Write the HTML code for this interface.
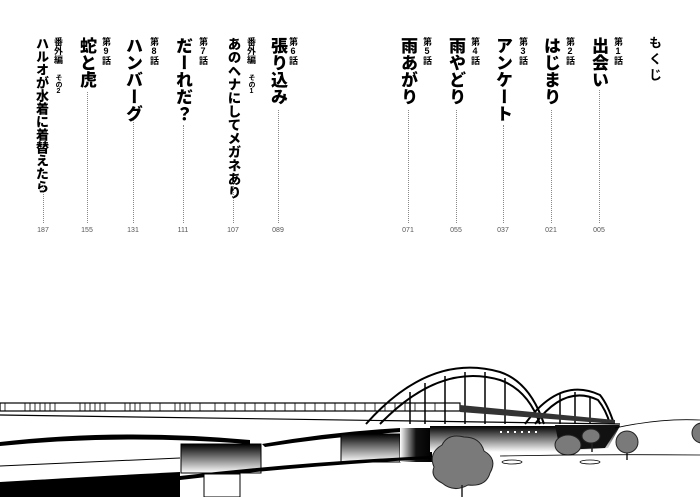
<!DOCTYPE html>
<html><head><meta charset="utf-8"><style>
html,body{margin:0;padding:0;background:#fff;}
body{width:700px;height:497px;position:relative;overflow:hidden;font-family:"Liberation Sans","Noto Sans CJK JP",sans-serif;}
.v{position:absolute;writing-mode:vertical-rl;text-orientation:upright;white-space:nowrap;color:#000;line-height:1;}
.t{font-weight:900;font-size:17px;top:37px;}
.s{font-size:9px;top:37px;font-weight:bold;}
.d{position:absolute;width:0;border-left:1.3px dotted #888;}
.p{position:absolute;top:227px;font-size:7px;color:#555;width:20px;text-align:center;margin-left:-10px;}
</style></head><body>
<div class="v" style="left:648px;top:36px;font-size:13px;letter-spacing:3px;font-weight:bold;">もくじ</div>

<div class="v s" style="left:613px;">第1話</div>
<div class="v t" style="left:590px;">出会い</div>
<div class="d" style="left:599px;top:90px;height:133px"></div><div class="p" style="left:599px">005</div>

<div class="v s" style="left:565px;">第2話</div>
<div class="v t" style="left:542px;">はじまり</div>
<div class="d" style="left:551px;top:110px;height:113px"></div><div class="p" style="left:551px">021</div>

<div class="v s" style="left:518px;">第3話</div>
<div class="v t" style="left:494px;">アンケート</div>
<div class="d" style="left:503px;top:125px;height:98px"></div><div class="p" style="left:503px">037</div>

<div class="v s" style="left:470px;">第4話</div>
<div class="v t" style="left:447px;">雨やどり</div>
<div class="d" style="left:456px;top:110px;height:113px"></div><div class="p" style="left:456px">055</div>

<div class="v s" style="left:422px;">第5話</div>
<div class="v t" style="left:399px;">雨あがり</div>
<div class="d" style="left:408px;top:110px;height:113px"></div><div class="p" style="left:408px">071</div>

<div class="v s" style="left:288px;">第6話</div>
<div class="v t" style="left:269px;">張り込み</div>
<div class="d" style="left:278px;top:110px;height:113px"></div><div class="p" style="left:278px">089</div>

<div class="v s" style="left:246px;">番外編 <span style="font-size:7px">その1</span></div>
<div class="v" style="left:226px;top:37px;font-size:13.5px;font-weight:900;">あのヘナにしてメガネあり</div>
<div class="d" style="left:233px;top:182px;height:41px"></div><div class="p" style="left:233px">107</div>

<div class="v s" style="left:198px;">第7話</div>
<div class="v t" style="left:174px;">だーれだ？</div>
<div class="d" style="left:183px;top:125px;height:98px"></div><div class="p" style="left:183px">111</div>

<div class="v s" style="left:149px;">第8話</div>
<div class="v t" style="left:124px;">ハンバーグ</div>
<div class="d" style="left:133px;top:120px;height:103px"></div><div class="p" style="left:133px">131</div>

<div class="v s" style="left:101px;">第9話</div>
<div class="v t" style="left:78px;">蛇と虎</div>
<div class="d" style="left:87px;top:92px;height:131px"></div><div class="p" style="left:87px">155</div>

<div class="v s" style="left:53px;">番外編 <span style="font-size:7px">その2</span></div>
<div class="v" style="left:35px;top:37px;font-size:13px;font-weight:900;">ハルオが水着に着替えたら</div>
<div class="d" style="left:43px;top:185px;height:38px"></div><div class="p" style="left:43px">187</div>

<svg width="700" height="497" style="position:absolute;left:0;top:0" viewBox="0 0 700 497">
<defs>
<linearGradient id="g" x1="0" y1="0" x2="0" y2="1"><stop offset="0" stop-color="#000"/><stop offset="1" stop-color="#fff"/></linearGradient>
<linearGradient id="gl" x1="0" y1="0" x2="1" y2="0"><stop offset="0" stop-color="#fff"/><stop offset="0.5" stop-color="#111"/><stop offset="1" stop-color="#000"/></linearGradient>
</defs>
<g fill="none" stroke="#000" stroke-width="2">
<path d="M366 424 Q430 352 500 372 Q530 382 544 424"/>
<path d="M380 424 Q440 362 500 380 Q528 390 540 424"/>
<path d="M525 424 Q560 376 600 395 Q608 405 614 424"/>
<path d="M535 424 Q565 384 598 400 Q606 410 610 424"/>
</g>
<g stroke="#000" stroke-width="1.5">
<line x1="410" y1="392" x2="410" y2="424"/><line x1="425" y1="383" x2="425" y2="424"/><line x1="445" y1="376" x2="445" y2="424"/>
<line x1="465" y1="372" x2="465" y2="424"/><line x1="485" y1="372" x2="485" y2="424"/><line x1="505" y1="378" x2="505" y2="424"/>
<line x1="560" y1="394" x2="560" y2="424"/><line x1="575" y1="392" x2="575" y2="424"/><line x1="590" y1="396" x2="590" y2="424"/>
</g>
<rect x="0" y="403" width="460" height="8" fill="none" stroke="#000" stroke-width="1.2"/>
<g stroke="#000" stroke-width="0.8">
<path d="M5 403v8M25 403v8M30 403v8M35 403v8M40 403v8M45 403v8M50 403v8M55 403v8M80 403v8M85 403v8M90 403v8M95 403v8M100 403v8M105 403v8M125 403v8M130 403v8M135 403v8M140 403v8M150 403v8M160 403v8M175 403v8M180 403v8M185 403v8M190 403v8M200 403v8M215 403v8M225 403v8M235 403v8M245 403v8M255 403v8M265 403v8M275 403v8M285 403v8M295 403v8M305 403v8M315 403v8M325 403v8M335 403v8M345 403v8M355 403v8M365 403v8M375 403v8M385 403v8M395 403v8M405 403v8M415 403v8M425 403v8M435 403v8M445 403v8"/>
</g>
<path d="M460 405 L615 420 L615 424 L460 412Z" fill="#333"/>
<line x1="0" y1="415" x2="620" y2="424" stroke="#000" stroke-width="1.2"/>
<!-- underside bands -->
<path d="M0 442 Q120 428 250 440 L250 444 Q120 434 0 446Z" fill="#000"/>
<path d="M262 444 Q330 432 400 428 L402 432 Q330 437 265 447Z" fill="#000"/>
<!-- piers -->
<rect x="181" y="444" width="80" height="29" fill="url(#g)" stroke="#000"/>
<rect x="341" y="434" width="59" height="28" fill="url(#g)" stroke="#000"/>
<rect x="400" y="428" width="32" height="34" fill="url(#gl)"/>
<path d="M430 426 L620 426 L608 448 L560 452 L430 452Z" fill="url(#g)"/>
<path d="M555 425 L620 425 L605 448 L560 450Z" fill="#111"/>
<g fill="#fff"><rect x="500" y="431" width="2" height="2"/><rect x="507" y="431" width="2" height="2"/><rect x="514" y="431" width="2" height="2"/><rect x="521" y="431" width="2" height="2"/><rect x="528" y="431" width="2" height="2"/><rect x="535" y="431" width="2" height="2"/></g>
<!-- lower dark -->
<path d="M0 482 Q100 476 180 472 L180 497 L0 497Z" fill="#000"/>
<path d="M180 476 Q300 462 430 456 L430 459 Q300 466 180 480Z" fill="#000"/>
<rect x="204" y="474" width="36" height="23" fill="#fff" stroke="#000"/>
<line x1="0" y1="466" x2="180" y2="458" stroke="#000"/>
<!-- trees -->
<g fill="#7a7a7a" stroke="#222" stroke-width="1">
<path d="M434 467 q-6-14 8-22 q6-12 22-8 q16 0 20 14 q14 8 6 22 q-4 14-22 12 q-14 8-26-2 q-12-6-8-16z"/>
<ellipse cx="568" cy="445" rx="13" ry="10"/><ellipse cx="591" cy="436" rx="9" ry="7"/><circle cx="627" cy="442" r="11"/>
<circle cx="702" cy="433" r="10"/>
</g>
<g stroke="#222" stroke-width="1.5"><line x1="462" y1="485" x2="462" y2="497"/><line x1="592" y1="443" x2="592" y2="452"/><line x1="627" y1="453" x2="627" y2="460"/></g>
<g stroke="#000" stroke-width="0.8" fill="none">
<path d="M615 428 Q660 418 700 420"/><path d="M500 456 Q600 454 700 455"/>
<ellipse cx="512" cy="462" rx="10" ry="2"/><ellipse cx="590" cy="462" rx="10" ry="2"/>
</g>
</svg>
</body></html>
